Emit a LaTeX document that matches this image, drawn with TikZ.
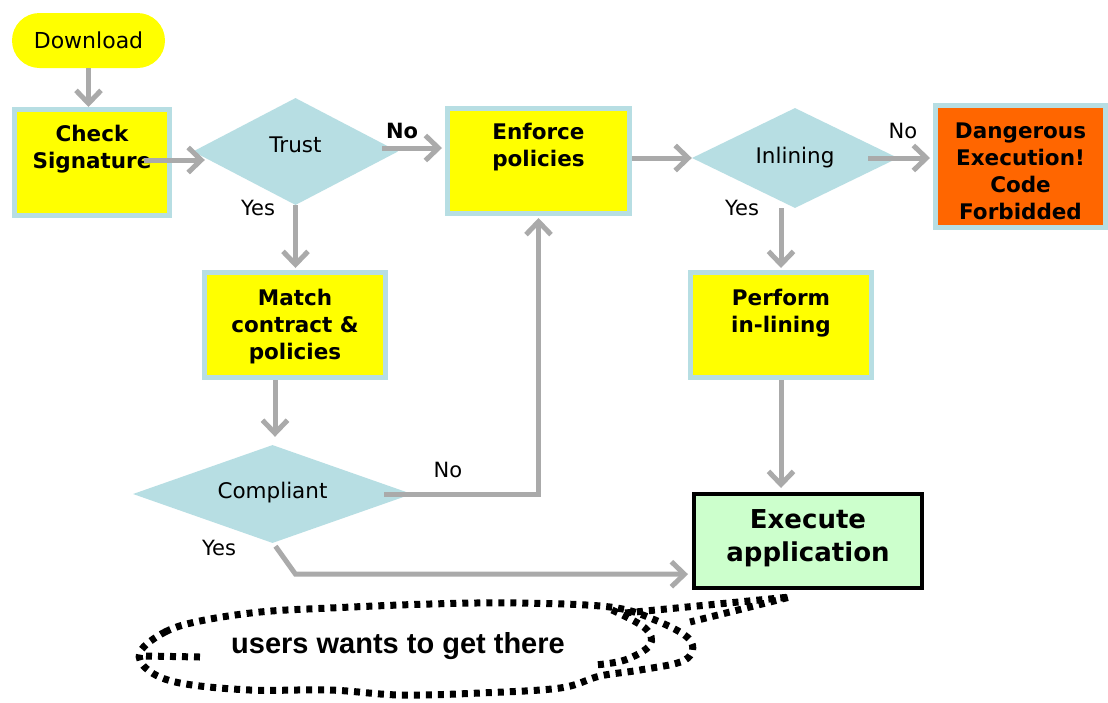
\documentclass[tikz,border=0pt]{standalone}
\usepackage{fontspec}
\setmainfont{DejaVu Sans}
\newfontfamily\cloudfont{Liberation Sans}
\usetikzlibrary{shapes.geometric,arrows.meta,calc}
\definecolor{lblue}{RGB}{183,222,227}
\definecolor{agray}{RGB}{170,170,170}
\definecolor{orng}{RGB}{255,102,0}
\definecolor{lgreen}{RGB}{204,255,204}
\definecolor{yel}{RGB}{255,255,0}
\begin{document}
\begin{tikzpicture}[x=1pt,y=-1pt,
  box/.style={rectangle, fill=yel, draw=lblue, line width=5pt, inner sep=0pt, minimum width=181pt, minimum height=105pt},
  btext/.style={anchor=north, yshift=-18pt, inner sep=0pt, align=center, font=\fontsize{21.5}{27}\selectfont\bfseries},
  dia/.style={diamond, fill=lblue, inner sep=0pt},
  dtext/.style={anchor=center, inner sep=0pt, font=\fontsize{21.5}{26}\selectfont},
  lab/.style={inner sep=0pt, font=\fontsize{21}{26}\selectfont},
  arr/.style={draw=agray, line width=5pt, -{Straight Barb[length=13pt,width=25pt]}},
  dots/.style={draw=black, line width=7pt, dash pattern=on 6pt off 6pt}
]
\fill[white] (0,0) rectangle (1108,702);
\useasboundingbox (0,0) rectangle (1108,702);

% nodes
\node[fill=yel, rounded corners=27.5pt, minimum width=153pt, minimum height=55pt, inner sep=0pt, font=\fontsize{22}{26}\selectfont] (dl) at (88.5,40.5) {Download};
\node[box, minimum width=155pt, minimum height=106pt, label={[btext]north:{Check\\Signature}}] (cs) at (92,162.5) {};
\node[dia, minimum width=205pt, minimum height=107pt, label={[dtext, yshift=6.5pt]center:Trust}] (trust) at (295.5,151.5) {};
\node[box, minimum width=182pt, minimum height=105pt, label={[btext, yshift=1pt]north:{Enforce\\policies}}] (enf) at (538.5,161) {};
\node[dia, minimum width=206pt, minimum height=100pt, label={[dtext, yshift=0.5pt]center:Inlining}] (inl) at (795,158) {};
\node[box, fill=orng, minimum width=170pt, minimum height=122pt, label={[btext, yshift=-1.5pt]north:{Dangerous\\Execution!\\Code\\Forbidded}}] (dang) at (1020.5,166.5) {};
\node[box, label={[btext, yshift=-1pt]north:{Match\\contract \&\\policies}}] (match) at (295,325) {};
\node[box, label={[btext, yshift=-1pt]north:{Perform\\in-lining}}] (perf) at (781,325) {};
\node[dia, minimum width=279pt, minimum height=98pt, label={[dtext, yshift=1.5pt]center:Compliant}] (comp) at (272.5,494) {};
\node[rectangle, fill=lgreen, draw=black, line width=4pt, inner sep=0pt, minimum width=228pt, minimum height=94pt,
  label={[btext, yshift=1pt, font=\fontsize{26}{33}\selectfont\bfseries]north:{Execute\\application}}] (exec) at (808,541) {};

% connectors
\draw[arr] (dl.south) -- (dl.south |- cs.north);
\draw[arr] ($(cs.east)+(-28,-2.5)$) coordinate (a2) -- ($(a2 -| trust.west)+(12,0)$);
\draw[arr] ($(trust.east)+(-16,-3.5)$) coordinate (a3) -- ($(a3 -| enf.west)+(-3,0)$);
\draw[arr] (trust.south) -- ($(trust.south |- match.north)+(0,-2)$);
\draw[arr] (enf.east |- inl.west) -- (inl.west);
\draw[arr] ($(inl.east)+(-30,0)$) coordinate (a6) -- ($(a6 -| dang.west)+(-3,0)$);
\draw[arr] (perf.north |- inl.south) -- ($(perf.north)+(0,-2)$);
\draw[arr] ($(match.south)+(-20,0)$) coordinate (a8) -- ($(a8 |- comp.north)+(0,-8)$);
\draw[arr] ($(comp.east)+(-28,0)$) -- (enf.south |- comp.east) -- ($(enf.south)+(0,2)$);
\draw[arr] ($(comp.south)+(3,3)$) -- ++(20,28) coordinate (a10) -- ($(a10 -| exec.west)+(-4,0)$);
\draw[arr] (perf.south) -- ($(perf.south |- exec.north)+(0,-4)$);

% branch labels
\node[lab, font=\fontsize{21}{26}\selectfont\bfseries] at (402,131) {No};
\node[lab] at (258,208) {Yes};
\node[lab] at (903,131) {No};
\node[lab] at (742,208) {Yes};
\node[lab] at (448,470) {No};
\node[lab] at (219,548) {Yes};

% cloud callout
\node[inner sep=0pt, font=\cloudfont\fontsize{29}{34}\selectfont\bfseries] (ct) at (398,646) {users wants to get there};
\draw[dots] plot[smooth cycle, tension=0.6] coordinates {(140,652) (165,632) (200,621) (260,612) (330,608) (430,604) (520,603) (610,607) (655,620) (690,640) (685,660) (640,670) (600,676) (560,688) (480,693) (400,695) (330,690) (250,690) (180,683) (148,670)};
\draw[dots] (146,656) -- (200,657);
\draw[dots] plot[smooth, tension=0.6] coordinates {(612,610) (645,628) (650,645) (625,660) (595,665)};
\coordinate (tail) at (790,597);
\draw[dots] (625,613) -- (tail) -- (690,622);
\end{tikzpicture}
\end{document}
